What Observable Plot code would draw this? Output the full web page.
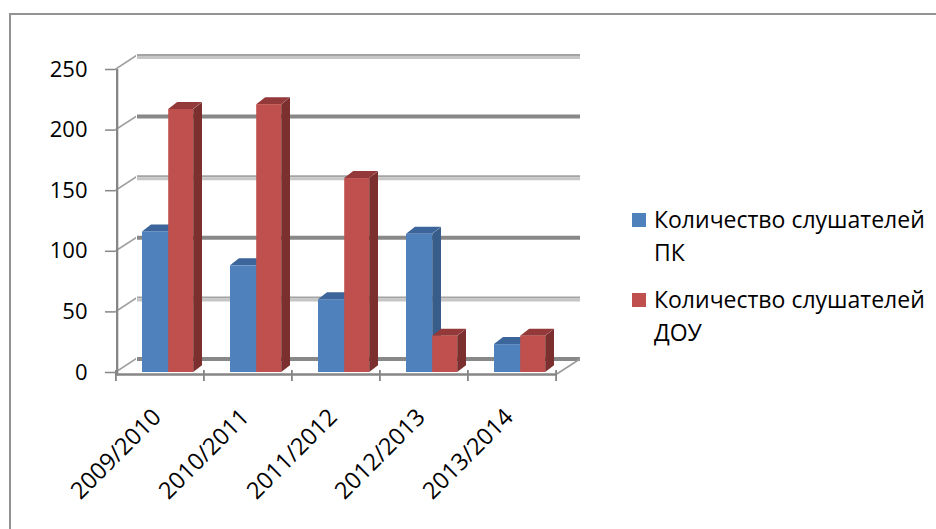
<!DOCTYPE html>
<html>
<head>
<meta charset="utf-8">
<script src="https://cdn.jsdelivr.net/npm/d3@7"></script>
<script src="https://cdn.jsdelivr.net/npm/@observablehq/plot@0.6"></script>
<style>
  html, body { margin: 0; padding: 0; background: #fff; overflow: hidden; }
  #wrap { position: relative; width: 936px; height: 529px; overflow: hidden; font-family: "Open Sans", sans-serif; }
  #chart { position: absolute; left: 0; top: 0; }
  #frame { position: absolute; left: 9px; top: 13px; width: 1000px; height: 700px; border-left: 2px solid #939393; border-top: 2px solid #939393; pointer-events: none; }
  .side rect { transform-box: fill-box; transform-origin: 0 0; transform: skewY(-37.9deg); }
  .top rect { transform-box: fill-box; transform-origin: 0 100%; transform: skewX(-52.1deg); }
  .diag line { transform-box: fill-box; transform-origin: 0 0; transform: skewY(-33deg); }
  #legend { position: absolute; left: 632px; top: 0; font-size: 23px; line-height: 33px; color: #000; }
  .item { position: absolute; left: 0; white-space: nowrap; }
  .swatch { position: absolute; left: 0; width: 14px; height: 14px; }
  .label { position: absolute; left: 22px; top: 0; }
</style>
</head>
<body>
<div id="wrap">
  <div id="chart"></div>
  <div id="legend"></div>
  <div id="frame"></div>
</div>
<script>
// ---- data ----
const years = ["2009/2010", "2010/2011", "2011/2012", "2012/2013", "2013/2014"];
const pkValues = [116, 88, 60, 114, 23];
const douValues = [217, 221, 160, 30, 30];
const seriesLabels = [["Количество слушателей", "ПК"], ["Количество слушателей", "ДОУ"]];
const seriesColors = ["#4F81BD", "#C0504D"];
const yTicks = [0, 50, 100, 150, 200, 250];

const pkData = years.map((year, i) => ({year, value: pkValues[i]}));
const douData = years.map((year, i) => ({year, value: douValues[i]}));
const majorTicks = yTicks.filter(d => d % 100 === 0);
const minorTicks = yTicks.filter(d => d % 100 !== 0);

const step = (936 - 380 - 115) / years.length; // band width in px
const axisGray = "#868686";

const plot = Plot.plot({
  width: 936,
  height: 529,
  marginLeft: 115,
  marginRight: 380,
  marginTop: 69,
  marginBottom: 157,
  style: {fontFamily: "'Open Sans', sans-serif", fontSize: "22px", background: "transparent", color: "#000", overflow: "visible"},
  x: {type: "band", domain: years, padding: 0, axis: null},
  y: {domain: [0, 250], ticks: yTicks, tickSize: 0, tickPadding: 28, label: null},
  marks: [
    // back wall gridlines
    Plot.ruleY(minorTicks, {y: d => d, insetLeft: 22, insetRight: -24, dy: -14.5, stroke: "#a3a3a3", strokeWidth: 2}),
    Plot.ruleY(minorTicks, {y: d => d, insetLeft: 22, insetRight: -24, dy: -12, stroke: "#c6c6c6", strokeWidth: 3}),
    Plot.ruleY(majorTicks, {y: d => d, insetLeft: 22, insetRight: -24, dy: -13.5, stroke: "#888888", strokeWidth: 4}),
    // side-wall diagonals
    Plot.ruleY(yTicks, {y: d => d, insetLeft: 0, insetRight: step * 5 - 21, stroke: "#a0a0a0", strokeWidth: 2, className: "diag"}),
    // floor right diagonal
    Plot.ruleY([0], {y: d => d, insetLeft: step * 5, insetRight: -24, dy: 2, stroke: "#9a9a9a", strokeWidth: 2, className: "diag"}),
    // front axis line + ticks
    Plot.ruleY([0], {y: d => d, dy: 2, stroke: axisGray, strokeWidth: 2.5}),
    Plot.ruleY(yTicks, {y: d => d, insetLeft: -10, insetRight: step * 5, stroke: axisGray, strokeWidth: 1.5}),
    Plot.barY([years[0]], {x: d => d, y1: 0, y2: 250, insetLeft: 0, insetRight: step - 2.5, insetBottom: -3.5, fill: axisGray}),
    Plot.barY(years, {x: d => d, y1: 0, y2: 0, insetTop: -2, insetBottom: -9, insetLeft: -1, insetRight: step - 1, fill: axisGray}),
    Plot.barY([years[years.length - 1]], {x: d => d, y1: 0, y2: 0, insetTop: -2, insetBottom: -9, insetLeft: step - 1, insetRight: -1, fill: axisGray}),
    // PK bars (3D-ish)
    Plot.barY(pkData, {x: "year", y1: 0, y2: "value", insetLeft: 52.2, insetRight: step - 61.2, fill: "#385D8A", className: "side"}),
    Plot.barY(pkData, {x: "year", y1: "value", y2: "value", insetTop: -7, insetLeft: 26, insetRight: step - 52.2, fill: "#3C659B", className: "top"}),
    Plot.barY(pkData, {x: "year", y1: 0, y2: "value", insetLeft: 26, insetRight: step - 52.2, fill: seriesColors[0]}),
    // DOU bars
    Plot.barY(douData, {x: "year", y1: 0, y2: "value", insetLeft: 77.2, insetRight: step - 86.2, fill: "#7B2F2E", className: "side"}),
    Plot.barY(douData, {x: "year", y1: "value", y2: "value", insetTop: -7, insetLeft: 52.2, insetRight: step - 77.2, fill: "#93393A", className: "top"}),
    Plot.barY(douData, {x: "year", y1: 0, y2: "value", insetLeft: 52.2, insetRight: step - 77.2, fill: seriesColors[1]}),
    // x labels
    Plot.text(years, {x: d => d, frameAnchor: "bottom", text: d => d, rotate: -45, textAnchor: "end", dx: 2, dy: 46, fontSize: 23.5, fill: "#000"})
  ]
});
document.getElementById("chart").appendChild(plot);

// legend
const legend = document.getElementById("legend");
const tops = [202.6, 282.6];
seriesLabels.forEach((lines, i) => {
  const item = document.createElement("div");
  item.className = "item";
  item.style.top = tops[i] + "px";
  const sw = document.createElement("div");
  sw.className = "swatch";
  sw.style.background = seriesColors[i];
  sw.style.top = "10.5px";
  const lab = document.createElement("div");
  lab.className = "label";
  lab.innerHTML = lines.join("<br>");
  item.appendChild(sw);
  item.appendChild(lab);
  legend.appendChild(item);
});
</script>
</body>
</html>
